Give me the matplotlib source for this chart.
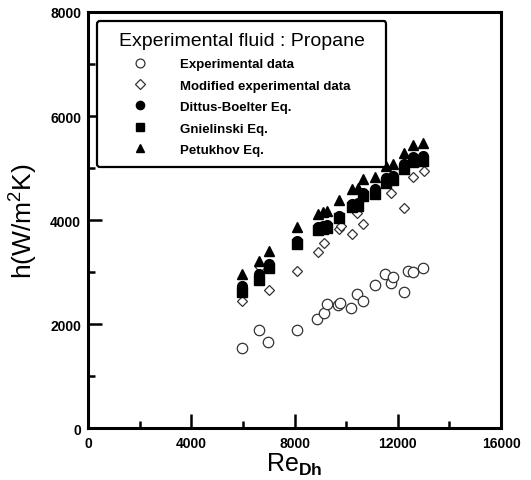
import matplotlib
matplotlib.use("Agg")
import matplotlib.pyplot as plt
from matplotlib.ticker import MultipleLocator

plt.rcParams["font.family"] = ["Liberation Sans", "DejaVu Sans"]
plt.rcParams["mathtext.fontset"] = "custom"
plt.rcParams["mathtext.rm"] = "Liberation Sans"
plt.rcParams["mathtext.bf"] = "Liberation Sans:bold"

# measured data
re_exp = [5980, 6640, 6990, 8100, 8860, 9135, 9250, 9700, 9770, 10190,
          10430, 10650, 11120, 11510, 11720, 11800, 12220, 12380, 12570, 12970]
h_exp = [1530, 1885, 1655, 1885, 2100, 2205, 2390, 2370, 2405, 2315,
         2580, 2440, 2750, 2955, 2785, 2910, 2615, 3025, 3005, 3070]

re_mod = [5980, 6660, 7015, 8110, 8890, 9150, 9730, 9795, 10220, 10410,
          10670, 11730, 12250, 12580, 13000]
h_mod = [2450, 3090, 2655, 3025, 3380, 3550, 3825, 3880, 3730, 4130,
         3930, 4515, 4225, 4835, 4950]

# correlations
re_eq = [5980, 6640, 7015, 8110, 8890, 9090, 9250, 9740, 10220, 10440,
         10670, 11120, 11550, 11795, 12250, 12570, 12970]
h_dittus = [2740, 2960, 3150, 3600, 3860, 3880, 3900, 4080, 4300, 4330,
            4520, 4590, 4800, 4850, 5080, 5220, 5240]
h_gniel = [2620, 2840, 3070, 3540, 3800, 3820, 3840, 4030, 4250, 4270,
           4460, 4500, 4720, 4760, 4980, 5110, 5130]
h_petuk = [2960, 3220, 3410, 3870, 4115, 4150, 4170, 4385, 4595, 4610,
           4790, 4835, 5045, 5075, 5290, 5440, 5480]

fig = plt.figure(figsize=(5.31, 4.81), dpi=100)
ax = fig.add_axes([0.1657, 0.108, 0.778, 0.865])

ax.plot(re_exp, h_exp, "o", ms=7.5, mfc="white", mec="#333333", mew=0.9,
        label="Experimental data")
ax.plot(re_mod, h_mod, "D", ms=5.5, mfc="white", mec="#333333", mew=0.9,
        label="Modified experimental data")
ax.plot(re_eq, h_dittus, "o", ms=7, color="black", label="Dittus-Boelter Eq.")
ax.plot(re_eq, h_gniel, "s", ms=6.5, color="black", label="Gnielinski Eq.")
ax.plot(re_eq, h_petuk, "^", ms=7, color="black", label="Petukhov Eq.")

ax.set_xlim(0, 16000)
ax.set_ylim(0, 8000)
ax.xaxis.set_major_locator(MultipleLocator(4000))
ax.xaxis.set_minor_locator(MultipleLocator(2000))
ax.yaxis.set_major_locator(MultipleLocator(2000))
ax.yaxis.set_minor_locator(MultipleLocator(1000))
ax.tick_params(which="both", direction="in", width=1.8, top=False, right=False)
ax.tick_params(which="major", length=10)
ax.tick_params(which="minor", length=5)
ax.tick_params(axis="x", which="major", pad=6)
ax.tick_params(axis="y", which="major", pad=5)
for lab in ax.get_xticklabels() + ax.get_yticklabels():
    lab.set_fontsize(10)
    lab.set_fontweight("bold")
for sp in ax.spines.values():
    sp.set_linewidth(2.2)

ax.set_xlabel(r"Re$_{\mathbf{Dh}}$", fontsize=18, labelpad=0)
ax.set_ylabel(r"h(W/m$^{2}$K)", fontsize=19, labelpad=8)

leg = ax.legend(loc="upper left", bbox_to_anchor=(0.022, 0.978, 0.70, 0.0),
                mode="expand", fancybox=True, edgecolor="black",
                framealpha=1, prop={"weight": "bold", "size": 9.5},
                title="Experimental fluid : Propane",
                title_fontproperties={"size": 14},
                handlelength=4.9, handletextpad=0.6, labelspacing=0.7,
                borderpad=0.8, markerscale=0.85, borderaxespad=0)
leg.get_frame().set_linewidth(1.6)

fig.savefig("out.png", dpi=100)
